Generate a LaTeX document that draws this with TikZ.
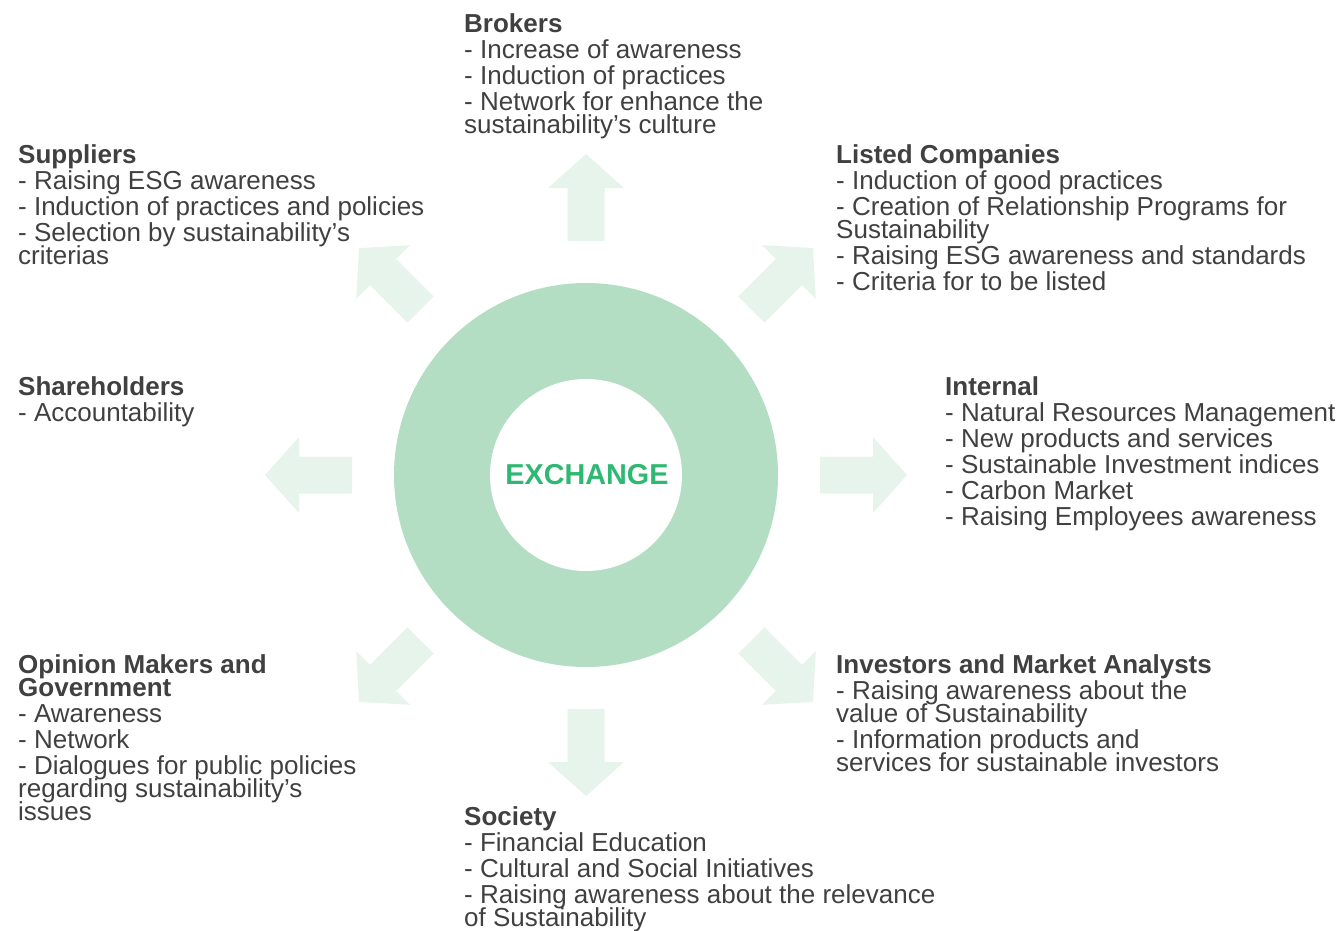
\documentclass[tikz,border=0pt]{standalone}
\usepackage{fontspec}
\setmainfont{Liberation Sans}
\usepackage{tikz}

\definecolor{txtgrey}{HTML}{404040}
\definecolor{ringgreen}{HTML}{B4DEC4}
\definecolor{arrowgreen}{HTML}{E7F4EB}
\definecolor{exgreen}{HTML}{2EB872}

\newcommand{\stakefont}{\fontsize{26}{23}\selectfont\lineskiplimit=-20pt\relax}
\newcommand{\nextitem}{\\[3pt]}

\begin{document}
\begin{tikzpicture}[x=1pt,y=1pt,yscale=-1,xscale=1,
  stake/.style={anchor=north west,inner sep=0pt,align=left,text=txtgrey,font=\stakefont}]
\useasboundingbox (0,0) rectangle (1340,930);

%Ring
\fill [ringgreen] (586,475) circle (192) ;
\fill [white] (586,475) circle (96) ;

%Block Arrows
\foreach \a in {0,45,...,315}
  \fill [arrowgreen, rotate around={\a:(586,475)}] (820,456.5) -- (873,456.5) -- (873,437) -- (907,475) -- (873,513) -- (873,493.5) -- (820,493.5) -- cycle ;

% Text Node
\node [text=exgreen,font=\fontsize{28.8}{30}\selectfont\bfseries] (exchange) at (587,475) {EXCHANGE};
% Text Node
\node [stake] (brokers) at (464,13) {\textbf{Brokers}\nextitem - Increase of awareness\nextitem - Induction of practices\nextitem - Network for enhance the\\ sustainability’s culture};
% Text Node
\node [stake] (suppliers) at (18,144) {\textbf{Suppliers}\nextitem - Raising ESG awareness\nextitem - Induction of practices and policies\nextitem - Selection by sustainability’s\\ criterias};
% Text Node
\node [stake] (listed) at (836,144) {\textbf{Listed Companies}\nextitem - Induction of good practices\nextitem - Creation of Relationship Programs for\\ Sustainability\nextitem - Raising ESG awareness and standards\nextitem - Criteria for to be listed};
% Text Node
\node [stake] (shareholders) at (18,376) {\textbf{Shareholders}\nextitem - Accountability};
% Text Node
\node [stake] (internal) at (945,376) {\textbf{Internal}\nextitem - Natural Resources Management\nextitem - New products and services\nextitem - Sustainable Investment indices\nextitem - Carbon Market\nextitem - Raising Employees awareness};
% Text Node
\node [stake] (opinion) at (18,654) {\textbf{Opinion Makers and}\\ \textbf{Government}\nextitem - Awareness\nextitem - Network\nextitem - Dialogues for public policies\\ regarding sustainability’s\\ issues};
% Text Node
\node [stake] (investors) at (836,654) {\textbf{Investors and Market Analysts}\nextitem - Raising awareness about the\\ value of Sustainability\nextitem - Information products and\\ services for sustainable investors};
% Text Node
\node [stake] (society) at (464,806) {\textbf{Society}\nextitem - Financial Education\nextitem - Cultural and Social Initiatives\nextitem - Raising awareness about the relevance\\ of Sustainability};

\end{tikzpicture}
\end{document}
